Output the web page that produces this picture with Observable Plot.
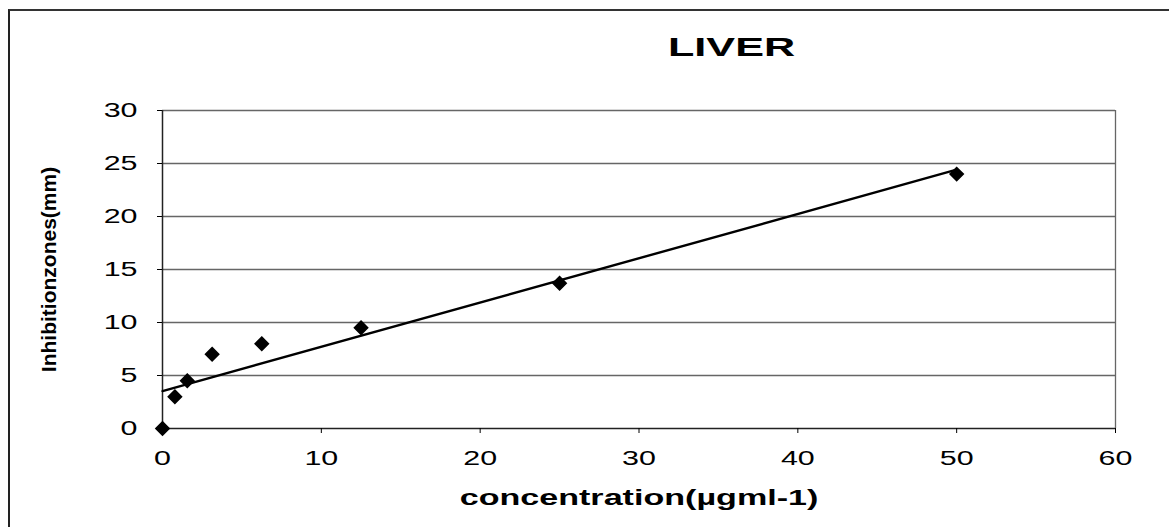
<!DOCTYPE html>
<html>
<head>
<meta charset="utf-8">
<script src="https://cdn.jsdelivr.net/npm/d3@7"></script>
<script src="https://cdn.jsdelivr.net/npm/@observablehq/plot@0.6"></script>
<style>
  body { margin: 0; background: #fff; }
  #wrap { position: relative; width: 1169px; height: 527px; overflow: hidden; font-family: Arial, "Liberation Sans", sans-serif; }
  #frame { position: absolute; left: 8px; top: 9px; width: 1200px; height: 600px; border-left: 2px solid #222; border-top: 2px solid #333; box-sizing: border-box; }
  #title { position: absolute; left: 668px; top: 33px; font-weight: bold; font-size: 26px; line-height: 28px; color: #000; white-space: nowrap; transform: scaleX(1.66); transform-origin: 0 0; }
  #chart { position: absolute; left: 0; top: 0; }
</style>
</head>
<body>
<div id="wrap">
  <div id="frame"></div>
  <div id="chart"></div>
  <div id="title">LIVER</div>
</div>
<script>
const concentration = [0, 0.78, 1.56, 3.125, 6.25, 12.5, 25, 50];
const inhibitionZone = [0, 3, 4.5, 7, 8, 9.5, 13.7, 24];
const xTicks = [0, 10, 20, 30, 40, 50, 60];
const yTicks = [0, 5, 10, 15, 20, 25, 30];
const title = "LIVER";
const xLabel = "concentration(µgml-1)";
const yLabel = "Inhibitionzones(mm)";

const data = concentration.map((c, i) => ({x: c, y: inhibitionZone[i]}));

const chart = Plot.plot({
  width: 1169,
  height: 527,
  marginLeft: 162,
  marginRight: 54,
  marginTop: 110,
  marginBottom: 99,
  style: {fontFamily: "Arial, 'Liberation Sans', sans-serif", fontSize: "21px", background: "transparent", color: "#000"},
  x: {domain: [0, 60], ticks: xTicks, label: null},
  y: {domain: [0, 30], ticks: yTicks, label: null},
  marks: [
    Plot.ruleY(yTicks.filter(d => d > 0), {stroke: "#666", strokeWidth: 1.3}),
    Plot.ruleX([60], {stroke: "#666", strokeWidth: 1.3}),
    Plot.ruleY([0], {stroke: "#222", strokeWidth: 1.5}),
    Plot.ruleX([0], {stroke: "#222", strokeWidth: 1.5}),
    Plot.axisX({ticks: xTicks, tickSize: 5, tickPadding: 17, fontSize: 21, tickFormat: d => d, label: null}),
    Plot.axisY({ticks: yTicks, tickSize: 5, tickPadding: 20, fontSize: 21, tickFormat: d => d, label: null}),
    Plot.linearRegressionY(data, {x: "x", y: "y", ci: 0, stroke: "#000", strokeWidth: 2.4}),
    Plot.dot(data, {x: "x", y: "y", symbol: "diamond2", r: 6, fill: "#000", stroke: "#000"}),
    Plot.text([xLabel], {frameAnchor: "bottom", dy: 76, fontSize: 22, fontWeight: "bold", fill: "#000", className: "xlab"}),
    Plot.text([yLabel], {frameAnchor: "left", textAnchor: "middle", dx: -113, rotate: -90, fontSize: 21, fontWeight: "bold", fill: "#000", className: "ylab"})
  ]
});
document.getElementById("chart").appendChild(chart);
document.getElementById("title").textContent = title;

// stretch glyphs horizontally like the scanned original
function stretch(selector, sx) {
  chart.querySelectorAll(selector).forEach(t => {
    const tr = t.getAttribute("transform") || "";
    t.setAttribute("transform", tr + ` scale(${sx},1)`);
  });
}
stretch("[aria-label='x-axis tick label'] text", 1.45);
stretch("[aria-label='y-axis tick label'] text", 1.45);
stretch(".xlab text", 1.55);
</script>
</body>
</html>
